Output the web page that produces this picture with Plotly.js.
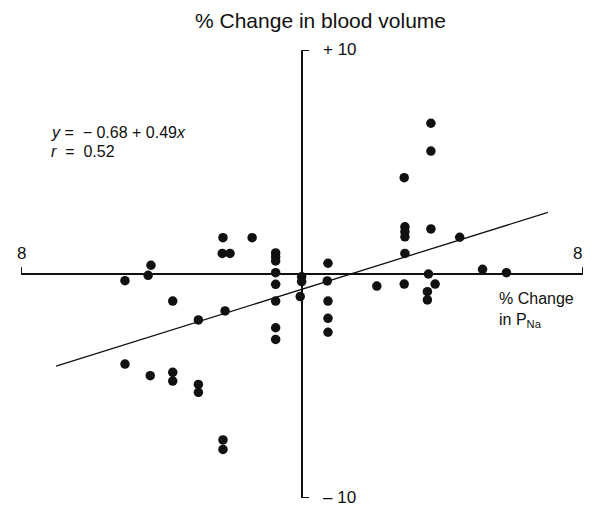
<!DOCTYPE html>
<html>
<head>
<meta charset="utf-8">
<script src="https://cdn.plot.ly/plotly-3.0.1.min.js"></script>
<style>html,body{margin:0;padding:0;background:#fff;}#chart{width:599px;height:509px;}</style>
</head>
<body>
<div id="chart"></div>
<script>
// % change in plasma sodium (x) vs % change in blood volume (y)
const pctChangePNa = [
  -5.04, -4.38, -4.30, -3.68, -2.25, -2.27, -2.05, -1.42, -0.75, -0.75, -0.75, -0.75, -0.75, -0.75,
  -2.19, -2.95, -0.75, -0.75, -5.04, -4.32, -3.68, -3.68, -2.95, -2.95, -2.25, -2.25,
  -0.01, -0.01, -0.05,
  0.74, 0.72, 0.74, 0.74, 0.74, 3.67, 3.67, 2.91, 2.93, 2.93, 2.93, 3.67, 4.49, 2.93,
  2.13, 2.91, 3.60, 3.79, 3.57, 3.57, 5.14, 5.82
];
const pctChangeBloodVolume = [
  -0.30, -0.06, 0.39, -1.21, 1.62, 0.92, 0.92, 1.62, 0.94, 0.76, 0.58, 0.06, -0.46, -1.21,
  -1.65, -2.05, -2.40, -2.92, -4.02, -4.54, -4.39, -4.78, -4.93, -5.28, -7.41, -7.83,
  -0.12, -0.34, -1.01,
  0.48, -0.31, -1.21, -1.98, -2.60, 6.73, 5.49, 4.30, 2.11, 1.89, 1.66, 2.01, 1.64, 0.92,
  -0.54, -0.45, 0.00, -0.45, -0.79, -1.16, 0.21, 0.06
];
// regression as printed on the figure
const fitIntercept = -0.68;
const fitSlope = 0.49;
const fitXRange = [-7, 7];
const xAxisLimit = 8;
const yAxisLimit = 10;
const xTickLabel = '8';
const yTickLabels = ['+ 10', '\u2013 10'];

const fitY = fitXRange.map(x => fitIntercept + fitSlope * x);

const font = 'Liberation Sans, Arial, sans-serif';

const traces = [
  {
    x: fitXRange, y: fitY, type: 'scatter', mode: 'lines',
    line: {color: '#111', width: 1.3}, hoverinfo: 'skip'
  },
  {
    x: pctChangePNa, y: pctChangeBloodVolume, type: 'scatter', mode: 'markers',
    marker: {color: '#111', size: 9.5, line: {width: 0}}
  }
];

const axLine = {color: '#111', width: 2};
const shapes = [
  {type: 'line', xref: 'x', yref: 'y', x0: -xAxisLimit, x1: xAxisLimit, y0: 0, y1: 0, line: axLine},
  {type: 'line', xref: 'x', yref: 'y', x0: -xAxisLimit, x1: -xAxisLimit, y0: 0, y1: 0.3, line: axLine},
  {type: 'line', xref: 'x', yref: 'y', x0: xAxisLimit, x1: xAxisLimit, y0: 0, y1: 0.3, line: axLine},
  {type: 'line', xref: 'x', yref: 'y', x0: 0, x1: 0, y0: -yAxisLimit, y1: yAxisLimit, line: axLine},
  {type: 'line', xref: 'x', yref: 'y', x0: 0, x1: 0.2, y0: yAxisLimit, y1: yAxisLimit, line: axLine},
  {type: 'line', xref: 'x', yref: 'y', x0: 0, x1: 0.2, y0: -yAxisLimit, y1: -yAxisLimit, line: axLine}
];

const tf = {family: font, size: 16, color: '#111'};
const tickFont = {family: font, size: 17, color: '#111'};
const annotations = [
  {xref: 'paper', yref: 'paper', x: 0.5, y: 1, yshift: 30, xshift: 18, text: '% Change in blood volume', showarrow: false,
   font: {family: font, size: 21, color: '#111'}, xanchor: 'center', yanchor: 'middle'},
  {xref: 'x', yref: 'y', x: 0.55, y: yAxisLimit, text: yTickLabels[0], showarrow: false, font: tickFont, xanchor: 'left', yanchor: 'middle', yshift: 1},
  {xref: 'x', yref: 'y', x: 0.55, y: -yAxisLimit, text: yTickLabels[1], showarrow: false, font: tickFont, xanchor: 'left', yanchor: 'middle', yshift: 1},
  {xref: 'x', yref: 'y', x: -xAxisLimit, y: 0, yshift: 21, text: xTickLabel, showarrow: false, font: tickFont, xanchor: 'center', yanchor: 'middle'},
  {xref: 'x', yref: 'y', x: xAxisLimit, y: 0, yshift: 21, xshift: -6, text: xTickLabel, showarrow: false, font: tickFont, xanchor: 'center', yanchor: 'middle'},
  {xref: 'x', yref: 'y', x: 5.55, y: 0, yshift: -24, text: '% Change', showarrow: false, font: tf, xanchor: 'left', yanchor: 'middle'},
  {xref: 'x', yref: 'y', x: 5.55, y: 0, yshift: -46, text: 'in P<sub>Na</sub>', showarrow: false, font: tf, xanchor: 'left', yanchor: 'middle'},
  {xref: 'x', yref: 'y', x: -7.2, y: 6.3, text: '<i>y</i> =  \u2212 0.68 + 0.49<i>x</i>', showarrow: false, font: tf, xanchor: 'left', yanchor: 'middle'},
  {xref: 'x', yref: 'y', x: -7.2, y: 5.45, text: '<i>r</i>  =  0.52', showarrow: false, font: tf, xanchor: 'left', yanchor: 'middle'}
];

const layout = {
  width: 599, height: 509,
  margin: {l: 21, r: 16, t: 50, b: 11},
  paper_bgcolor: '#fff', plot_bgcolor: '#fff',
  showlegend: false,
  xaxis: {range: [-xAxisLimit, xAxisLimit], visible: false, fixedrange: true},
  yaxis: {range: [-yAxisLimit, yAxisLimit], visible: false, fixedrange: true},
  shapes: shapes,
  annotations: annotations
};

Plotly.newPlot('chart', traces, layout, {displayModeBar: false, staticPlot: true});
</script>
</body>
</html>
